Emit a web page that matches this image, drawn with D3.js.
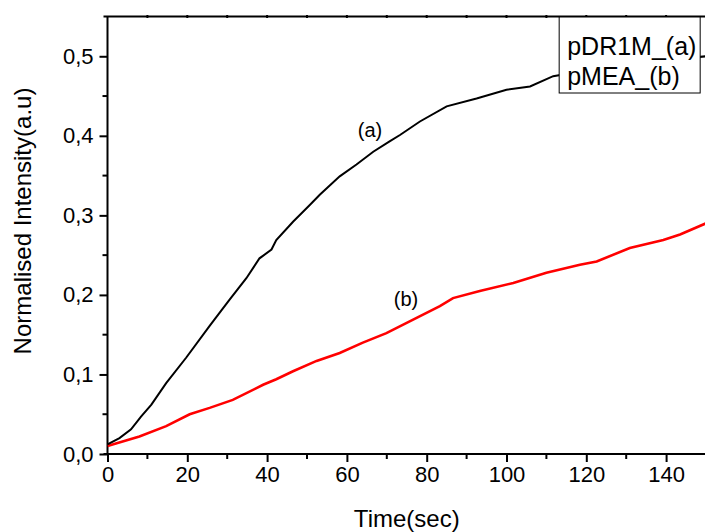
<!DOCTYPE html>
<html>
<head>
<meta charset="utf-8">
<script src="https://cdn.jsdelivr.net/npm/d3@7"></script>
<style>
  html, body { margin: 0; padding: 0; background: #fff; }
  svg { display: block; }
  text { font-family: "Liberation Sans", Arial, sans-serif; fill: #000; }
</style>
</head>
<body>
<div id="chart"></div>
<script>
// curve (a) pDR1M
const timeA = [0, 3, 5.9, 8.4, 11, 14.7, 19.7, 25.6, 30.6, 34.8, 38.1, 41.1, 42.3, 46.5, 50.7, 53.2, 58.2, 62.4, 66.6, 70.7, 73.3, 78.3, 85, 92.5, 100, 105.9, 111.7, 120, 130, 140, 150];
const valA = [0.012, 0.02, 0.031, 0.047, 0.062, 0.089, 0.121, 0.161, 0.194, 0.221, 0.246, 0.257, 0.269, 0.292, 0.313, 0.326, 0.349, 0.364, 0.380, 0.393, 0.401, 0.418, 0.437, 0.447, 0.458, 0.462, 0.475, 0.482, 0.489, 0.495, 0.50];
// curve (b) pMEA
const timeB = [0, 8, 14.7, 20.6, 25.6, 31.4, 39, 42.3, 46.5, 52.4, 58.2, 64, 69.9, 76.6, 83.3, 86.6, 93.3, 101.7, 110, 118.4, 122.6, 130.9, 139.3, 143.5, 150];
const valB = [0.010, 0.022, 0.035, 0.050, 0.058, 0.068, 0.087, 0.094, 0.104, 0.117, 0.127, 0.140, 0.152, 0.169, 0.186, 0.196, 0.205, 0.215, 0.228, 0.238, 0.242, 0.259, 0.269, 0.276, 0.290];

const xTicks = [0, 20, 40, 60, 80, 100, 120, 140];
const yTicks = [0, 0.1, 0.2, 0.3, 0.4, 0.5];
const legendNames = ["pDR1M_(a)", "pMEA_(b)"];

(function() {
  const W = 705, H = 532;
  const margin = { top: 16.5, left: 107.5, bottom: 78, right: -1 };
  const width = W - margin.left - margin.right;
  const height = H - margin.top - margin.bottom;

  const x = d3.scaleLinear().domain([0, 150]).range([0, width]);
  const y = d3.scaleLinear().domain([0, 0.55]).range([height, 0]);

  const svg = d3.select("#chart").append("svg")
    .attr("width", W)
    .attr("height", H);

  svg.append("defs").append("clipPath").attr("id", "clip")
    .append("rect").attr("width", width).attr("height", height);

  const g = svg.append("g")
    .attr("transform", "translate(" + margin.left + "," + margin.top + ")");

  const fmt = d => d3.format(".1f")(d).replace(".", ",");

  // minor ticks
  const xMinor = d3.range(10, 150, 20);
  const yMinor = d3.range(0.05, 0.55, 0.1);

  g.selectAll(".xminor").data(xMinor).enter().append("line")
    .attr("x1", d => x(d)).attr("x2", d => x(d))
    .attr("y1", height).attr("y2", height + 5)
    .attr("stroke", "#000").attr("stroke-width", 2);
  g.selectAll(".yminor").data(yMinor).enter().append("line")
    .attr("y1", d => y(d)).attr("y2", d => y(d))
    .attr("x1", 0).attr("x2", -5)
    .attr("stroke", "#000").attr("stroke-width", 2);

  // top axis small ticks
  g.selectAll(".tminor").data(d3.range(10, 150, 10)).enter().append("line")
    .attr("x1", d => x(d)).attr("x2", d => x(d))
    .attr("y1", -1.5).attr("y2", 1.5)
    .attr("stroke", "#000").attr("stroke-width", 2);

  const xAxis = d3.axisBottom(x).tickValues(xTicks).tickSize(8).tickPadding(4).tickFormat(d3.format("d"));
  const yAxis = d3.axisLeft(y).tickValues(yTicks).tickSize(8).tickPadding(6).tickFormat(fmt);

  const gx = g.append("g")
    .attr("transform", "translate(0," + height + ")")
    .call(xAxis);
  const gy = g.append("g").call(yAxis);

  [gx, gy].forEach(a => {
    a.select(".domain").remove();
    a.selectAll("line").attr("stroke", "#000").attr("stroke-width", 2);
    a.selectAll("text").style("font-size", "22px").attr("fill", "#000");
  });

  // frame
  g.append("line").attr("x1", -4).attr("x2", width).attr("y1", height).attr("y2", height)
    .attr("stroke", "#000").attr("stroke-width", 2);
  g.append("line").attr("x1", 0).attr("x2", 0).attr("y1", 0).attr("y2", height)
    .attr("stroke", "#000").attr("stroke-width", 2);
  g.append("line").attr("x1", -4).attr("x2", width).attr("y1", 0).attr("y2", 0)
    .attr("stroke", "#000").attr("stroke-width", 2);

  const line = d3.line()
    .x(d => x(d[0]))
    .y(d => y(d[1]));

  const plot = g.append("g").attr("clip-path", "url(#clip)");

  plot.append("path")
    .datum(d3.zip(timeB, valB))
    .attr("d", line)
    .attr("fill", "none")
    .attr("stroke", "#ff0000")
    .attr("stroke-width", 2.6);

  plot.append("path")
    .datum(d3.zip(timeA, valA))
    .attr("d", line)
    .attr("fill", "none")
    .attr("stroke", "#000")
    .attr("stroke-width", 2);

  // curve labels
  g.append("text")
    .attr("x", x(65.8)).attr("y", y(0.398))
    .attr("text-anchor", "middle")
    .style("font-size", "20px")
    .text("(a)");
  g.append("text")
    .attr("x", x(74.8)).attr("y", y(0.186))
    .attr("text-anchor", "middle")
    .style("font-size", "20px")
    .text("(b)");

  // legend box
  const lg = g.append("g")
    .attr("transform", "translate(" + (x(113.2)) + ",0)");
  lg.append("rect")
    .attr("x", 0).attr("y", 0.5)
    .attr("width", 141).attr("height", 76)
    .attr("fill", "#fff")
    .attr("stroke", "#000")
    .attr("stroke-width", 1);
  lg.selectAll(".lt").data(legendNames).enter().append("text")
    .attr("x", 8)
    .attr("y", (d, i) => 38.5 + i * 30)
    .style("font-size", "25px")
    .text(d => d);

  // axis titles
  svg.append("text")
    .attr("x", margin.left + width / 2)
    .attr("y", 527)
    .attr("text-anchor", "middle")
    .style("font-size", "24px")
    .text("Time(sec)");
  svg.append("text")
    .attr("transform", "translate(31,221) rotate(-90)")
    .attr("text-anchor", "middle")
    .style("font-size", "24px")
    .text("Normalised Intensity(a.u)");
})();
</script>
</body>
</html>
